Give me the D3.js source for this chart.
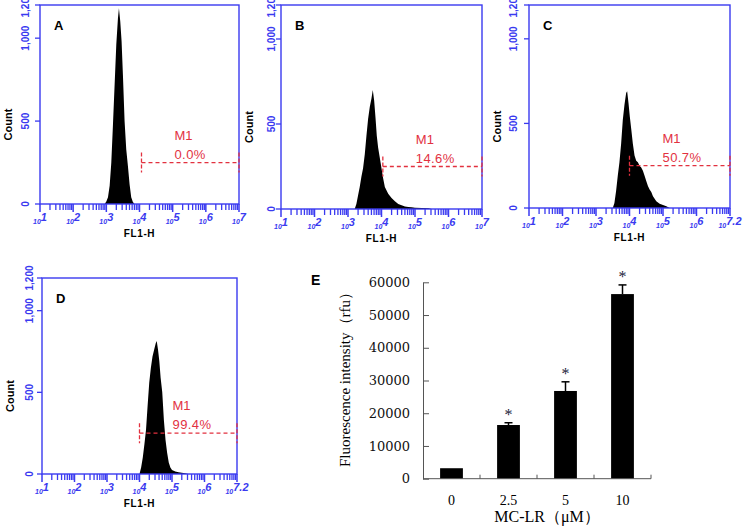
<!DOCTYPE html>
<html>
<head>
<meta charset="utf-8">
<script src="https://cdn.jsdelivr.net/npm/d3@7"></script>
<style>
  body { margin: 0; background: #fff; }
  svg { display: block; }
</style>
</head>
<body>
<svg id="fig" width="743" height="526"></svg>
<script>
// flow cytometry histograms, [log10 FL1-H, count]
const histA = [[2.95,0],[3.0,15],[3.05,40],[3.1,110],[3.15,250],[3.2,480],[3.25,720],[3.3,960],[3.35,1120],[3.38,1180],
  [3.42,1100],[3.46,980],[3.5,780],[3.55,500],[3.6,330],[3.65,230],[3.7,120],[3.75,40],[3.8,12],[3.85,0]];
const histB = [[3.2,0],[3.25,30],[3.3,80],[3.35,130],[3.4,190],[3.45,240],[3.5,320],[3.55,430],[3.6,530],[3.65,600],
  [3.7,650],[3.74,700],[3.78,640],[3.82,540],[3.86,430],[3.9,360],[3.95,300],[4.0,240],[4.05,180],[4.1,130],[4.2,90],
  [4.3,65],[4.4,45],[4.5,30],[4.6,22],[4.7,15],[4.8,12],[4.9,10],[5.0,8],[5.2,6],[5.4,4],[5.5,0]];
const histC = [[3.5,0],[3.55,30],[3.6,100],[3.65,190],[3.7,270],[3.75,380],[3.8,520],[3.85,610],[3.9,680],[3.93,690],
  [3.97,620],[4.01,540],[4.05,470],[4.1,380],[4.15,310],[4.2,280],[4.25,270],[4.3,250],[4.35,240],[4.4,220],[4.45,190],
  [4.5,160],[4.55,130],[4.6,110],[4.65,95],[4.7,70],[4.8,40],[4.9,25],[5.0,18],[5.1,10],[5.2,0]];
const histD = [[4.0,0],[4.05,40],[4.1,100],[4.15,180],[4.2,270],[4.25,420],[4.3,560],[4.35,650],[4.4,720],[4.45,760],
  [4.5,800],[4.53,815],[4.57,760],[4.61,690],[4.65,590],[4.7,500],[4.75,330],[4.8,210],[4.85,130],[4.9,70],[4.95,40],
  [5.0,25],[5.1,15],[5.2,10],[5.3,8],[5.4,5],[5.5,0]];

const panelLetters = ["A", "B", "C", "D"];
const m1Percent = ["0.0%", "14.6%", "50.7%", "99.4%"];
const m1Start = [4.06, 4.04, 4.0, 4.0];
const m1End = [7, 7, 7, 7];
const m1Level = [250, 250, 250, 250];

const countTicks = [0, 500, 1000, 1200];
const countTickLabels = ["0", "500", "1,000", "1,200"];
const decades = [1, 2, 3, 4, 5, 6, 7];
const decadeLabelsAB = ["1", "2", "3", "4", "5", "6", "7"];
const decadeLabelsCD = ["1", "2", "3", "4", "5", "6", "7.2"];

// bar chart E
const doses = ["0", "2.5", "5", "10"];
const fluorMean = [3200, 16400, 26800, 56400];
const fluorErr = [0, 700, 2800, 2800];
const fluorSig = [false, true, true, true];
const fluorTicks = [0, 10000, 20000, 30000, 40000, 50000, 60000];

const svg = d3.select("#fig");
const blue = "#3a3af0";
const red = "#e2313f";
const sans = "'Liberation Sans', Arial, sans-serif";
const serif = "'Liberation Serif', 'Times New Roman', serif";

const panels = [
  { data: histA, labels: decadeLabelsAB, box: { x0: 40, x1: 239, y0: 5, y1: 204 }, lab: -11 },
  { data: histB, labels: decadeLabelsAB, box: { x0: 281, x1: 482, y0: 5, y1: 209 }, lab: -6 },
  { data: histC, labels: decadeLabelsCD, box: { x0: 529, x1: 730, y0: 5, y1: 208 }, lab: -12 },
  { data: histD, labels: decadeLabelsCD, box: { x0: 42, x1: 237, y0: 278, y1: 474 }, lab: -9 }
];

panels.forEach((p, i) => {
  const b = p.box;
  const x = d3.scaleLog().domain([1e1, 1e7]).range([b.x0, b.x1]);
  const y = d3.scaleLinear().domain([0, 1200]).range([b.y1, b.y0]);
  const g = svg.append("g");

  // histogram
  const area = d3.area()
    .x(d => x(Math.pow(10, d[0])))
    .y0(y(0))
    .y1(d => y(d[1]));
  g.append("path").datum(p.data).attr("d", area).attr("fill", "#000");

  // frame
  g.append("rect")
    .attr("x", b.x0).attr("y", b.y0)
    .attr("width", b.x1 - b.x0).attr("height", b.y1 - b.y0)
    .attr("fill", "none").attr("stroke", blue).attr("stroke-width", 1.4);

  // log ticks along the bottom
  let minor = [];
  for (let k = 1; k < 7; k++) {
    for (let m = 2; m <= 9; m++) minor.push(m * Math.pow(10, k));
  }
  g.selectAll(".minor").data(minor).enter().append("line")
    .attr("x1", d => x(d)).attr("x2", d => x(d))
    .attr("y1", b.y1).attr("y2", b.y1 + 6)
    .attr("stroke", blue).attr("stroke-width", 1.3);
  g.selectAll(".major").data(decades).enter().append("line")
    .attr("x1", d => x(Math.pow(10, d))).attr("x2", d => x(Math.pow(10, d)))
    .attr("y1", b.y1).attr("y2", b.y1 + 8)
    .attr("stroke", blue).attr("stroke-width", 1.5);

  let xl = g.selectAll(".xl").data(decades).enter().append("text")
    .attr("x", d => x(Math.pow(10, d)))
    .attr("y", b.y1 + 20)
    .attr("text-anchor", "middle")
    .attr("fill", blue)
    .attr("font-family", sans)
    .attr("font-style", "italic")
    .attr("font-weight", "bold");
  xl.append("tspan").attr("font-size", 7).text("10");
  xl.append("tspan").attr("font-size", 11).attr("dy", -3).text((d, j) => p.labels[j]);

  // count axis
  g.selectAll(".yt").data(countTicks).enter().append("line")
    .attr("x1", b.x0 - 5).attr("x2", b.x0)
    .attr("y1", d => y(d)).attr("y2", d => y(d))
    .attr("stroke", blue).attr("stroke-width", 1.3);
  g.selectAll(".yl").data(countTicks).enter().append("text")
    .attr("transform", d => `translate(${b.x0 + p.lab},${y(d)}) rotate(-90)`)
    .attr("text-anchor", "middle")
    .attr("fill", blue)
    .attr("font-family", sans)
    .attr("font-weight", "bold")
    .attr("font-size", 10)
    .text((d, j) => countTickLabels[j]);

  g.append("text")
    .attr("transform", `translate(${b.x0 - 28},${(b.y0 + b.y1) / 2 + 20}) rotate(-90)`)
    .attr("text-anchor", "middle")
    .attr("font-family", sans).attr("font-weight", "bold").attr("font-size", 11)
    .text("Count");

  g.append("text")
    .attr("x", (b.x0 + b.x1) / 2).attr("y", b.y1 + 33)
    .attr("text-anchor", "middle")
    .attr("font-family", sans).attr("font-weight", "bold").attr("font-size", 10)
    .attr("letter-spacing", 0.6)
    .text("FL1-H");

  g.append("text")
    .attr("x", b.x0 + 14).attr("y", b.y0 + 25)
    .attr("font-family", sans).attr("font-weight", "bold").attr("font-size", 13)
    .text(panelLetters[i]);

  // M1 gate
  const gx0 = x(Math.pow(10, m1Start[i])), gx1 = x(Math.pow(10, m1End[i])), gy = y(m1Level[i]);
  g.append("line").attr("x1", gx0).attr("x2", gx1).attr("y1", gy).attr("y2", gy)
    .attr("stroke", red).attr("stroke-width", 1.3).attr("stroke-dasharray", "4,3");
  [gx0, gx1].forEach(gxe => {
    g.append("line").attr("x1", gxe).attr("x2", gxe).attr("y1", gy - 10).attr("y2", gy + 10)
      .attr("stroke", red).attr("stroke-width", 1.3).attr("stroke-dasharray", "4,2");
  });
  g.append("text").attr("x", gx0 + 33).attr("y", gy - 23)
    .attr("fill", red).attr("font-family", sans).attr("font-size", 13)
    .text("M1");
  g.append("text").attr("x", gx0 + 33).attr("y", gy - 4)
    .attr("fill", red).attr("font-family", sans).attr("font-size", 13).attr("letter-spacing", 0.4)
    .text(m1Percent[i]);
});

// ---- panel E: bar chart ----
const gE = svg.append("g");
const xE = d3.scaleBand().domain(doses).range([423, 651]).paddingInner(0.6).paddingOuter(0.3);
const yE = d3.scaleLinear().domain([0, 60000]).range([478.7, 282.3]);
const axisCol = "#555";

gE.selectAll(".bar").data(doses).enter().append("rect")
  .attr("x", d => xE(d))
  .attr("width", xE.bandwidth())
  .attr("y", (d, i) => yE(fluorMean[i]))
  .attr("height", (d, i) => yE(0) - yE(fluorMean[i]))
  .attr("fill", "#000");

// error bars
doses.forEach((d, i) => {
  if (fluorErr[i] <= 0) return;
  const cx = xE(d) + xE.bandwidth() / 2;
  const top = yE(fluorMean[i] + fluorErr[i]);
  gE.append("line").attr("x1", cx).attr("x2", cx).attr("y1", yE(fluorMean[i])).attr("y2", top)
    .attr("stroke", "#000").attr("stroke-width", 1.5);
  gE.append("line").attr("x1", cx - 4).attr("x2", cx + 4).attr("y1", top).attr("y2", top)
    .attr("stroke", "#000").attr("stroke-width", 1.5);
  if (fluorSig[i]) {
    gE.append("text").attr("x", cx).attr("y", top - 3)
      .attr("text-anchor", "middle")
      .attr("font-family", serif).attr("font-size", 16).attr("fill", "#1c1c3a")
      .text("*");
  }
});

const yAxisE = d3.axisLeft(yE).tickValues(fluorTicks).tickSizeInner(-6).tickSizeOuter(0).tickPadding(13)
  .tickFormat(d3.format("d"));
const ya = gE.append("g").attr("transform", "translate(423,0)").call(yAxisE);
ya.select(".domain").attr("stroke", axisCol);
ya.selectAll(".tick line").attr("stroke", axisCol);
ya.selectAll(".tick text")
  .attr("font-family", "'DejaVu Serif', serif").attr("font-size", 13).attr("fill", "#111");

// x axis with small ticks at the band edges
gE.append("line").attr("x1", 423).attr("x2", 651).attr("y1", yE(0)).attr("y2", yE(0))
  .attr("stroke", axisCol).attr("stroke-width", 1);
gE.selectAll(".xt").data(doses).enter().append("line")
  .attr("x1", d => xE(d) + xE.bandwidth() + xE.step() * 0.3)
  .attr("x2", d => xE(d) + xE.bandwidth() + xE.step() * 0.3)
  .attr("y1", yE(0)).attr("y2", yE(0) - 4)
  .attr("stroke", axisCol);
gE.selectAll(".xl").data(doses).enter().append("text")
  .attr("x", d => xE(d) + xE.bandwidth() / 2)
  .attr("y", 505)
  .attr("text-anchor", "middle")
  .attr("font-family", serif).attr("font-size", 14)
  .text(d => d);

gE.append("text").attr("x", 547).attr("y", 522)
  .attr("text-anchor", "middle")
  .attr("font-family", serif).attr("font-size", 16)
  .text("MC-LR（μM）");

gE.append("text")
  .attr("transform", "translate(350,376) rotate(-90)")
  .attr("text-anchor", "middle")
  .attr("font-family", serif).attr("font-size", 15)
  .text("Fluorescence intensity（rfu）");

gE.append("text").attr("x", 311).attr("y", 285)
  .attr("font-family", sans).attr("font-weight", "bold").attr("font-size", 14)
  .text("E");
</script>
</body>
</html>
